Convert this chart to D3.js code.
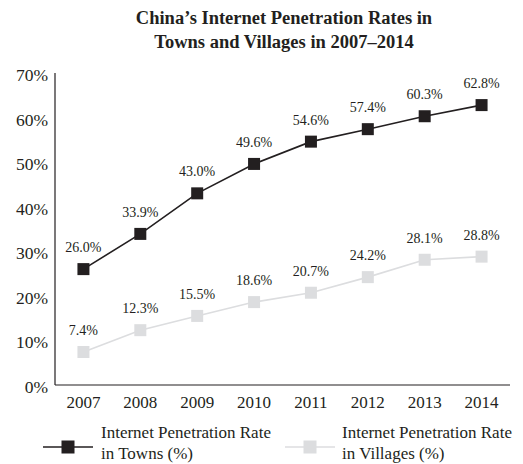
<!DOCTYPE html>
<html><head><meta charset="utf-8">
<script src="https://cdn.jsdelivr.net/npm/d3@7"></script>
<style>body{margin:0;background:#fff}svg{display:block}text{font-family:"Liberation Serif","Times New Roman",serif;fill:#231f20}</style>
</head><body><div id="c"></div>
<script>
const years = ["2007","2008","2009","2010","2011","2012","2013","2014"];
const towns = [26.0,33.9,43.0,49.6,54.6,57.4,60.3,62.8];
const villages = [7.4,12.3,15.5,18.6,20.7,24.2,28.1,28.8];
const yTicks = [0,10,20,30,40,50,60,70];
const titleLines = ["China\u2019s Internet Penetration Rates in","Towns and Villages in 2007\u20132014"];
const legendLabels = [["Internet Penetration Rate","in Towns (%)"],["Internet Penetration Rate","in Villages (%)"]];

const W=523,H=464;
const svg=d3.select("#c").append("svg").attr("width",W).attr("height",H);
const x=d3.scaleBand().domain(years).range([55,510]);
const y=d3.scaleLinear().domain([0,70]).range([385,73]);
const cx=d=>x(d)+x.bandwidth()/2;

svg.selectAll(".title").data(titleLines).enter().append("text")
  .attr("x",284).attr("y",(d,i)=>24+i*24).attr("text-anchor","middle")
  .style("font-size","18.5px").style("font-weight","bold").text(d=>d);

svg.append("line").attr("x1",55).attr("x2",55).attr("y1",73).attr("y2",385).attr("stroke","#231f20").attr("stroke-width",1.2);
svg.append("line").attr("x1",55).attr("x2",510).attr("y1",385).attr("y2",385).attr("stroke","#231f20").attr("stroke-width",1.2);

svg.selectAll(".yt").data(yTicks).enter().append("text")
  .attr("x",48).attr("y",d=>y(d)+8).attr("text-anchor","end").style("font-size","17.5px").text(d=>d+"%");
svg.selectAll(".xt").data(years).enter().append("text")
  .attr("x",d=>cx(d)).attr("y",408).attr("text-anchor","middle").style("font-size","17px").text(d=>d);

const series=[{vals:villages,color:"#dcdddf"},{vals:towns,color:"#231f20"}];
const line=d3.line().x((d,i)=>cx(years[i])).y(d=>y(d));
series.forEach(s=>{
  svg.append("path").attr("d",line(s.vals)).attr("fill","none").attr("stroke",s.color).attr("stroke-width",1.6);
  svg.selectAll(null).data(s.vals).enter().append("rect")
    .attr("x",(d,i)=>cx(years[i])-6).attr("y",d=>y(d)-6).attr("width",12).attr("height",12).attr("fill",s.color);
  svg.selectAll(null).data(s.vals).enter().append("text")
    .attr("x",(d,i)=>cx(years[i])).attr("y",d=>y(d)-17).attr("text-anchor","middle")
    .style("font-size","14px").text(d=>d.toFixed(1)+"%");
});

const lg=[{x1:43,x2:93,color:"#231f20",tx:101},{x1:285,x2:335,color:"#dcdddf",tx:342}];
lg.forEach((l,i)=>{
  svg.append("line").attr("x1",l.x1).attr("x2",l.x2).attr("y1",447).attr("y2",447).attr("stroke",l.color).attr("stroke-width",1.6);
  svg.append("rect").attr("x",(l.x1+l.x2)/2-6.5).attr("y",440.5).attr("width",13).attr("height",13).attr("fill",l.color);
  svg.selectAll(null).data(legendLabels[i]).enter().append("text")
    .attr("x",l.tx).attr("y",(d,j)=>438+j*21).style("font-size","17px").text(d=>d);
});
</script></body></html>
